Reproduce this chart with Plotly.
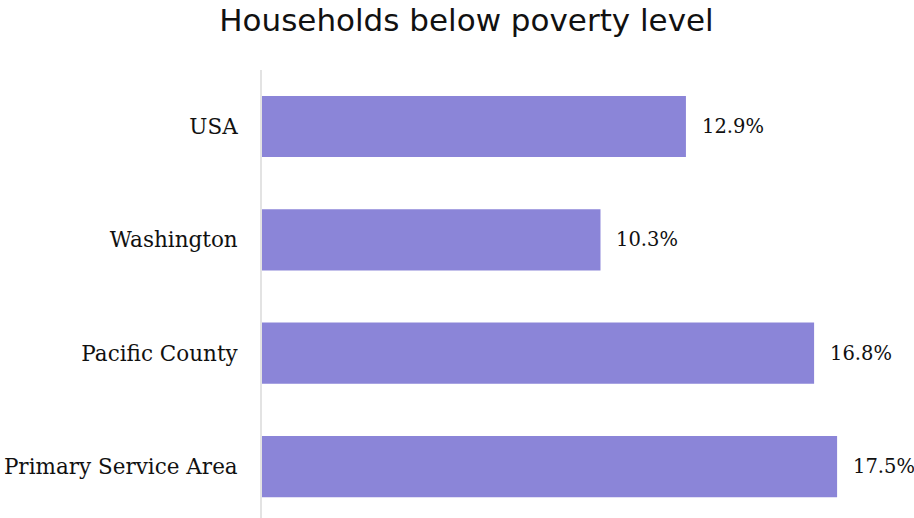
import plotly.graph_objects as go

categories = ["USA", "Washington", "Pacific County", "Primary Service Area"]
values = [12.9, 10.3, 16.8, 17.5]
labels = ["12.9%", "10.3%", "16.8%", "17.5%"]

fig = go.Figure()
fig.add_trace(go.Bar(
    x=values, y=categories, orientation="h",
    marker=dict(color="#8b85d8", line=dict(width=0)),
    width=0.54, hoverinfo="skip",
))
for c, v, t in zip(categories, values, labels):
    fig.add_annotation(x=v, y=c, text=t, showarrow=False, xanchor="left",
                       xshift=14, font=dict(family="DejaVu Serif", size=19.5, color="#111"))

fig.update_layout(
    width=914, height=518,
    margin=dict(l=262, r=0, t=70, b=0),
    plot_bgcolor="white", paper_bgcolor="white",
    showlegend=False,
    title=dict(text="Households below poverty level", x=466.5/914, xanchor="center",
               y=1 - 20/518, yanchor="middle",
               font=dict(family="DejaVu Sans", size=31, color="#111")),
    xaxis=dict(range=[0, 19.84], visible=False, fixedrange=True),
    yaxis=dict(type="category", categoryorder="array", categoryarray=categories,
               range=[3.454, -0.4985], showline=True, linecolor="#e3e3e3", linewidth=2,
               showgrid=False, ticks="", ticklabelstandoff=18,
               tickfont=dict(family="DejaVu Serif", size=21.5, color="#111")),
)
fig.write_html("out.html")
